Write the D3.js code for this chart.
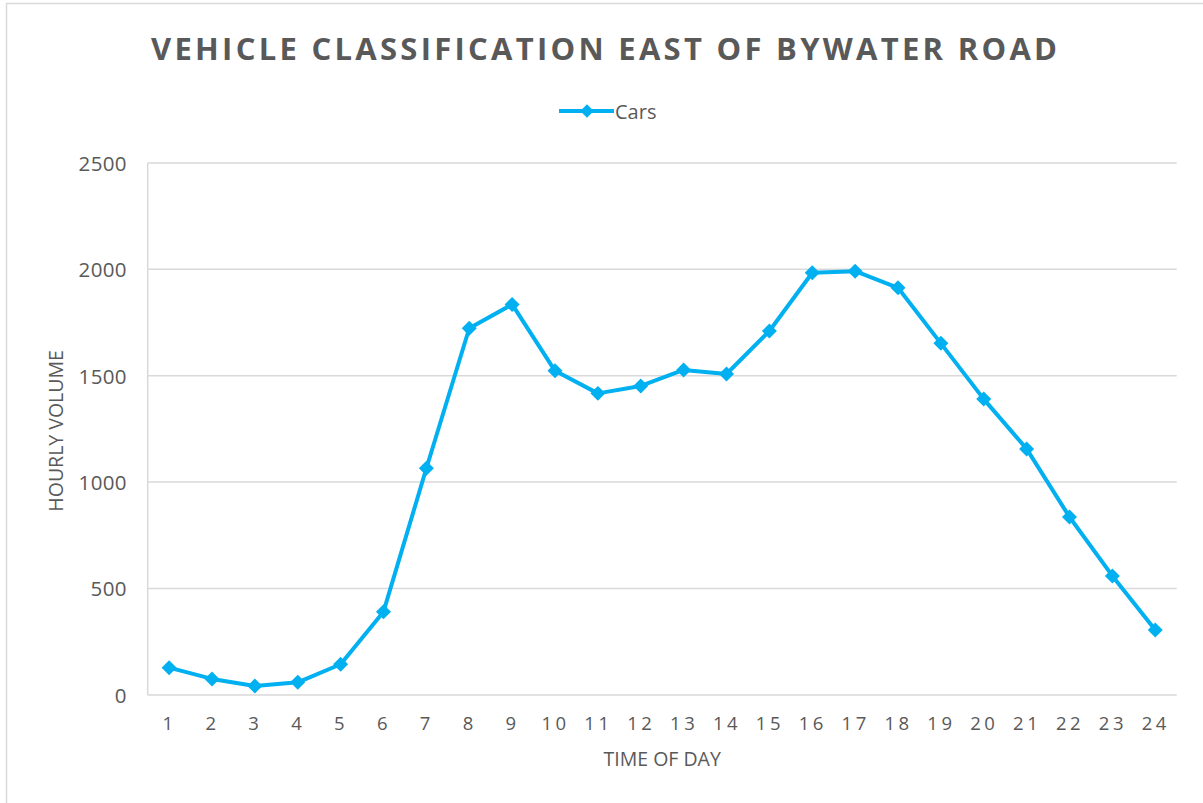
<!DOCTYPE html>
<html>
<head>
<meta charset="utf-8">
<script src="https://cdn.jsdelivr.net/npm/d3@7"></script>
<style>
  html, body { margin: 0; padding: 0; background: #fff; }
  svg { display: block; font-family: 'Open Sans', sans-serif; }
</style>
</head>
<body>
<svg id="chart" width="1203" height="803"></svg>
<script>
// data
const hours = d3.range(1, 25).map(String);
const cars = [128, 75, 42, 59, 144, 391, 1065, 1723, 1835, 1523, 1417, 1452,
  1527, 1508, 1710, 1984, 1991, 1913, 1652, 1390, 1156, 836, 559, 305];
const yTicks = [0, 500, 1000, 1500, 2000, 2500];

const title = 'VEHICLE CLASSIFICATION EAST OF BYWATER ROAD';
const seriesName = 'Cars';
const xTitle = 'TIME OF DAY';
const yTitle = 'HOURLY VOLUME';

const textColor = '#595959';
const gridColor = '#d9d9d9';
const lineColor = '#00b0f0';

const svg = d3.select('#chart');
const plot = {left: 147.7, right: 1176.7, top: 162.9, bottom: 694.9};

// chart frame (only top and left edges are visible in the picture)
svg.append('line').attr('x1', 6).attr('x2', 1203).attr('y1', 3.5).attr('y2', 3.5)
  .attr('stroke', '#d9d9d9').attr('stroke-width', 1.5);
svg.append('line').attr('x1', 6.5).attr('x2', 6.5).attr('y1', 3).attr('y2', 803)
  .attr('stroke', '#d9d9d9').attr('stroke-width', 1.5);

const x = d3.scalePoint().domain(hours).range([plot.left, plot.right]).padding(0.5);
const y = d3.scaleLinear().domain([0, 2500]).range([plot.bottom, plot.top]);

// gridlines
svg.append('g').selectAll('line').data(yTicks).join('line')
  .attr('x1', plot.left).attr('x2', plot.right)
  .attr('y1', d => y(d)).attr('y2', d => y(d))
  .attr('stroke', gridColor).attr('stroke-width', 1.5);
svg.append('line').attr('x1', plot.left).attr('x2', plot.left)
  .attr('y1', plot.top).attr('y2', plot.bottom)
  .attr('stroke', gridColor).attr('stroke-width', 1.5);

// y axis labels
const yAxis = svg.append('g').attr('transform', `translate(${plot.left - 21},0)`)
  .call(d3.axisLeft(y).tickValues(yTicks).tickFormat(d3.format('d')).tickSize(0).tickPadding(0));
yAxis.select('.domain').remove();
yAxis.selectAll('text').attr('fill', textColor).attr('font-size', 20.5)
  .attr('font-family', "'Open Sans', sans-serif").attr('letter-spacing', 0.3)
  .attr('dy', '0.36em');

// x axis labels
const xAxis = svg.append('g').attr('transform', `translate(0,${plot.bottom})`)
  .call(d3.axisBottom(x).tickSize(0).tickPadding(0));
xAxis.select('.domain').remove();
xAxis.selectAll('text').attr('fill', textColor).attr('font-size', 18.5)
  .attr('font-family', "'Open Sans', sans-serif").attr('letter-spacing', 3.5)
  .attr('dx', 0).attr('dy', 0).attr('y', 35);

// axis titles
svg.append('text').attr('x', (plot.left + plot.right) / 2).attr('y', 766)
  .attr('text-anchor', 'middle').attr('fill', textColor).attr('font-size', 19.5)
  .text(xTitle);
svg.append('text').attr('transform', `translate(63,${(plot.top + plot.bottom) / 2 + 2}) rotate(-90)`)
  .attr('text-anchor', 'middle').attr('fill', textColor).attr('font-size', 19.5)
  .text(yTitle);

// title
svg.append('text').attr('x', 604).attr('y', 60).attr('text-anchor', 'middle')
  .attr('fill', textColor).attr('font-size', 31).attr('font-weight', 'bold')
  .attr('textLength', 906).attr('lengthAdjust', 'spacing')
  .text(title);

// series line
const line = d3.line().x((d, i) => x(hours[i])).y(d => y(d));
svg.append('path').datum(cars).attr('d', line)
  .attr('fill', 'none').attr('stroke', lineColor).attr('stroke-width', 4)
  .attr('stroke-linejoin', 'round');

const diamond = d3.symbol(d3.symbolSquare).size(112);
svg.append('g').selectAll('path').data(cars).join('path')
  .attr('d', diamond)
  .attr('transform', (d, i) => `translate(${x(hours[i])},${y(d)}) rotate(45)`)
  .attr('fill', lineColor);

// legend
const legend = svg.append('g');
legend.append('line').attr('x1', 559).attr('x2', 614).attr('y1', 111).attr('y2', 111)
  .attr('stroke', lineColor).attr('stroke-width', 4);
legend.append('path').attr('d', d3.symbol(d3.symbolSquare).size(90)())
  .attr('transform', 'translate(587,111) rotate(45)').attr('fill', lineColor);
legend.append('text').attr('x', 615).attr('y', 119).attr('fill', textColor)
  .attr('font-size', 20).text(seriesName);
</script>
</body>
</html>
